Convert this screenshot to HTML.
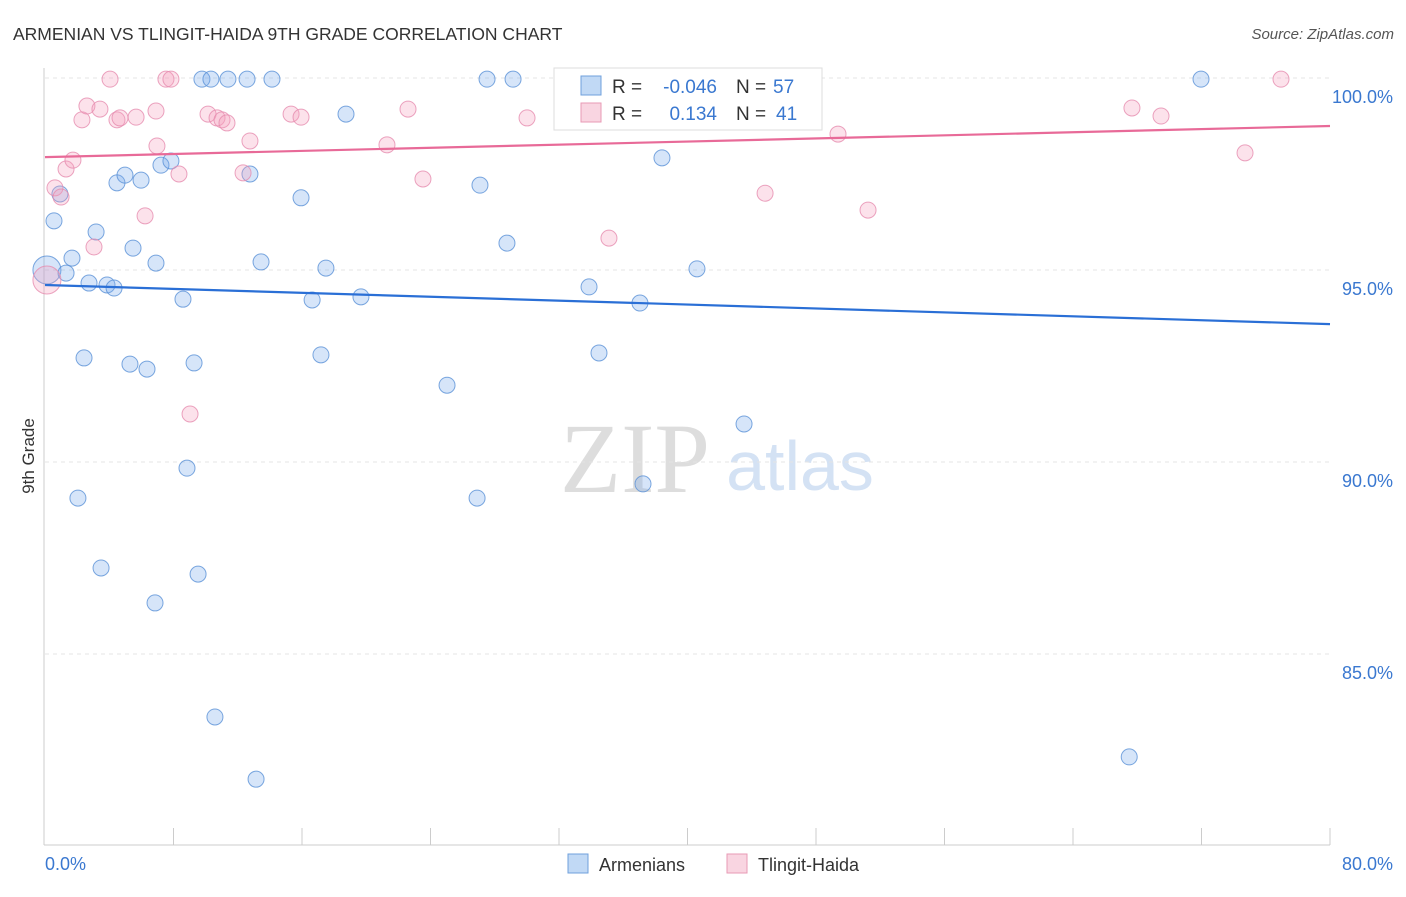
<!DOCTYPE html>
<html><head><meta charset="utf-8"><style>
body{margin:0;background:#fff;font-family:"Liberation Sans",sans-serif}
svg text{font-family:"Liberation Sans",sans-serif}
</style></head><body>
<svg id="c" width="1406" height="892" xmlns="http://www.w3.org/2000/svg">
<text x="13" y="40" font-size="17.5" fill="#333">ARMENIAN VS TLINGIT-HAIDA 9TH GRADE CORRELATION CHART</text>
<text x="1394" y="39" font-size="15" fill="#555" font-style="italic" text-anchor="end">Source: ZipAtlas.com</text>
<text x="635" y="492" font-size="100" fill="#ddd" text-anchor="middle" font-family="Liberation Serif" style="font-family:'Liberation Serif',serif">ZIP</text>
<text x="800" y="490" font-size="70" fill="#d4e2f4" text-anchor="middle">atlas</text>
<g id="grid"></g><g id="axes"></g><g id="pts"></g><g id="trend"></g>
<text x="34" y="456" font-size="17" fill="#333" text-anchor="middle" transform="rotate(-90 34 456)">9th Grade</text>
<g>
<rect x="554" y="68" width="268" height="62" fill="#fff" stroke="#ddd"/>
<rect x="581" y="76" width="20" height="19" fill="rgba(100,160,230,0.4)" stroke="#6fa0dc"/>
<rect x="581" y="103" width="20" height="19" fill="rgba(240,150,180,0.4)" stroke="#e89ab5"/>
<text x="612" y="93" font-size="19" fill="#333">R =</text>
<text x="717" y="93" font-size="19" fill="#3a78d0" text-anchor="end">-0.046</text>
<text x="736" y="93" font-size="19" fill="#333">N =</text>
<text x="773" y="93" font-size="19" fill="#3a78d0">57</text>
<text x="612" y="120" font-size="19" fill="#333">R =</text>
<text x="717" y="120" font-size="19" fill="#3a78d0" text-anchor="end">0.134</text>
<text x="736" y="120" font-size="19" fill="#333">N =</text>
<text x="776" y="120" font-size="19" fill="#3a78d0">41</text>
</g>
<g>
<rect x="568" y="854" width="20" height="19" fill="rgba(100,160,230,0.4)" stroke="#6fa0dc"/>
<text x="599" y="871" font-size="18" fill="#333">Armenians</text>
<rect x="727" y="854" width="20" height="19" fill="rgba(240,150,180,0.4)" stroke="#e89ab5"/>
<text x="758" y="871" font-size="18" fill="#333">Tlingit-Haida</text>
</g>
</svg>
<script>
const blueX=[0.12,0.56,0.93,1.31,1.68,2.74,3.18,2.43,2.05,3.49,3.86,4.30,4.48,4.98,5.29,5.48,5.98,6.35,6.85,6.91,7.22,7.84,8.59,8.84,9.28,9.53,9.77,10.33,10.58,11.39,12.58,12.76,13.14,13.45,14.13,15.94,16.63,17.18,17.49,18.74,19.67,25.03,26.9,27.08,27.52,28.76,29.14,32.75,33.87,34.49,37.04,37.23,38.41,40.59,43.52,67.5,71.97];
const blueY=[95.0,96.28,96.98,94.92,95.31,94.66,95.99,92.71,89.06,87.24,94.61,94.53,97.27,97.47,92.55,95.57,97.34,92.42,86.33,95.18,97.73,97.84,94.24,89.84,92.58,87.08,99.97,99.97,83.36,99.97,99.97,97.5,81.74,95.21,99.97,96.88,94.22,92.79,95.05,99.06,94.30,92.0,89.06,97.21,99.97,95.70,99.97,99.97,94.56,92.84,94.14,89.43,97.92,95.03,90.99,82.32,99.97];
const pinkX=[0.12,0.62,1.0,1.31,1.74,2.3,2.61,3.05,3.42,4.05,4.48,4.67,5.67,6.23,6.91,6.97,7.53,7.84,8.34,9.03,10.15,10.71,11.02,11.33,12.33,12.76,15.32,15.94,21.29,22.6,23.53,30.01,35.11,36.61,44.83,49.37,51.24,67.67,69.48,74.71,76.95];
const pinkY=[94.74,97.14,96.9,97.63,97.86,98.91,99.27,95.6,99.19,99.97,98.91,98.96,98.98,96.41,99.14,98.23,99.97,99.97,97.5,91.25,99.06,98.96,98.91,98.83,97.53,98.36,99.06,98.98,98.26,99.19,97.37,98.96,95.83,99.97,97.0,98.54,96.56,99.22,99.01,98.05,99.97];
const blueTrend=[94.61,93.59];
const pinkTrend=[97.94,98.75];
const yTicks=[100,95,90,85];
const yTickLabels=["100.0%","95.0%","90.0%","85.0%"];
const xEndLabels=["0.0%","80.0%"];
const NS="http://www.w3.org/2000/svg";
const X=v=>45+v/80*1285, Y=v=>78+(100-v)*38.4;
function mk(t,a,p){const e=document.createElementNS(NS,t);for(const k in a)e.setAttribute(k,a[k]);document.getElementById(p).appendChild(e);return e;}
yTicks.forEach((t,i)=>{
 const l=mk('line',{x1:45,x2:1330,y1:Y(t),y2:Y(t),stroke:'#e4e4e4','stroke-dasharray':'4,4'},'grid');
 
 
 const tx=mk('text',{x:1393,y:Y(t)+25,'font-size':18,fill:'#3a78d0','text-anchor':'end'},'grid');
 tx.textContent=yTickLabels[i];
 
 
});
const ax=mk('line',{x1:44,x2:44,y1:68,y2:845,stroke:'#ccc'},'axes');


const bx=mk('line',{x1:44,x2:1330,y1:845,y2:845,stroke:'#ccc'},'axes');


for(let i=1;i<=10;i++){const tk=mk('line',{x1:X(i*8),x2:X(i*8),y1:828,y2:845,stroke:'#ccc'},'axes');
 
 }
[[0,'start',45],[80,'end',1393]].forEach((d,i)=>{const t=mk('text',{x:d[2],y:870,'font-size':18,fill:'#3a78d0','text-anchor':d[1]},'axes');t.textContent=xEndLabels[i];
 
 });
function pts(xs,ys,fill,stroke,name){xs.forEach((x,i)=>{const c=mk('circle',{cx:X(x),cy:Y(ys[i]),r:i==0?14:8,fill:fill,stroke:stroke,'stroke-width':1},'pts');
 
 });}
pts(blueX,blueY,'rgba(120,170,235,0.3)','rgba(90,145,215,0.8)','armenian-point');
pts(pinkX,pinkY,'rgba(245,160,190,0.3)','rgba(230,140,175,0.8)','tlingit-haida-point');
const bl=mk('line',{x1:X(0),x2:X(80),y1:Y(blueTrend[0]),y2:Y(blueTrend[1]),stroke:'#2a6fd6','stroke-width':2.2},'trend');


const pl=mk('line',{x1:X(0),x2:X(80),y1:Y(pinkTrend[0]),y2:Y(pinkTrend[1]),stroke:'#e86a98','stroke-width':2.2},'trend');


</script>
</body></html>
